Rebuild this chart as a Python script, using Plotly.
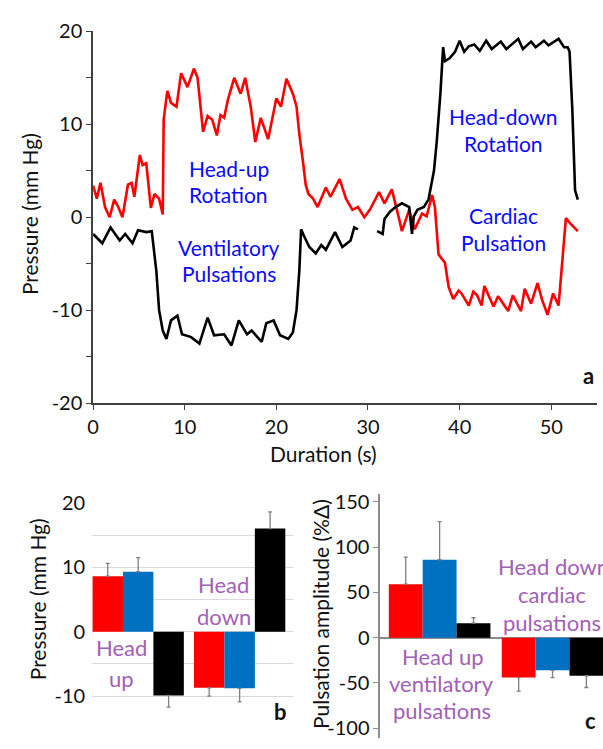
import plotly.graph_objects as go

# ---------------- data ----------------
red_t = [0, 0.4, 0.8, 1.3, 1.8, 2.3, 2.7, 3.2, 3.8, 4.2, 4.5, 5.1, 5.4, 5.8, 6.3, 6.7, 7.2, 7.6,
         7.7, 8.1, 8.5, 9.1, 9.6, 10.3, 11.0, 11.4, 12.0, 12.5, 13.0, 13.5, 13.9, 14.3, 14.7,
         15.4, 16.1, 16.6, 17.2, 17.7, 18.3, 19.1, 20.0, 20.5, 21.1, 21.8, 22.2, 22.5, 22.9,
         23.2, 23.5, 24.0, 24.5, 25.4, 25.9, 26.9, 27.6, 28.3, 28.9, 29.6, 30.2, 31.2, 31.8,
         32.6, 33.4, 33.7, 34.5, 35.1, 35.9, 36.4, 37.0, 37.3, 37.7, 38.4, 38.8, 39.3, 39.9,
         40.2, 41.0, 41.5, 41.9, 42.4, 42.7, 43.7, 44.2, 45.3, 45.8, 46.7, 47.1, 47.8, 48.5,
         49.0, 49.6, 50.2, 50.8, 51.6, 52.1, 52.9]
red_v = [3.4, 2.0, 3.7, 1.1, 0.0, 1.9, 1.2, 0.0, 3.5, 3.7, 2.2, 6.7, 5.6, 5.8, 1.0, 2.5, 2.0, 0.3,
         10.5, 13.6, 12.3, 11.9, 15.5, 14.0, 16.0, 15.0, 9.2, 10.9, 10.5, 8.8, 11.0, 10.7, 12.6,
         15.0, 13.3, 15.0, 11.9, 8.1, 10.7, 8.4, 12.8, 11.9, 14.9, 13.3, 11.9, 9.0, 6.0,
         3.5, 2.5, 2.0, 1.1, 3.2, 2.2, 4.1, 2.0, 0.8, 1.1, 0.0, 0.8, 2.7, 1.5,
         3.0, -0.2, -1.5, 0.8, -1.3, 0.4, 0.1, 2.4, 1.1, -4.0, -4.9, -7.5, -8.8, -7.9,
         -8.2, -9.5, -8.0, -8.4, -9.5, -7.4, -9.6, -8.5, -10.1, -8.4, -10.1, -7.7, -9.3, -7.1,
         -8.9, -10.5, -8.2, -9.5, -0.1, -0.7, -1.5]

black_t = [0, 1.0, 1.9, 2.9, 3.5, 4.3, 4.9, 5.8, 6.4, 6.9, 7.2, 7.6, 8.0, 8.5, 9.2, 9.7, 10.7,
           11.6, 12.5, 13.2, 14.3, 15.1, 15.9, 16.8, 17.3, 18.4, 18.9, 19.7, 20.4, 21.3, 21.8,
           22.2, 22.5, 22.7, 23.0, 23.6, 24.3, 24.9, 25.4, 26.4, 27.2, 28.1, 28.5, 28.9, None,
           31.0, 31.6, 31.8, 32.4, 33.0, 33.7, 34.5, 34.8, 35.0, 35.4, 36.1, 36.6, 37.2, 37.5,
           37.9, 38.2, 38.4, 38.9, 39.5, 40.0, 40.5, 41.0, 41.6, 42.2, 42.9, 43.5, 44.5, 45.1,
           46.4, 46.9, 47.8, 48.3, 49.2, 49.7, 50.8, 51.4, 51.8, 52.0, 52.3, 52.6, 52.9]
black_v = [-1.8, -2.8, -1.1, -2.5, -1.8, -2.8, -1.4, -1.6, -1.5, -5.8, -10.0, -12.2, -13.1,
           -11.1, -10.6, -12.6, -12.9, -13.6, -10.8, -12.7, -12.6, -13.8, -11.1, -12.6, -12.2,
           -13.4, -11.4, -11.1, -12.7, -13.1, -12.4, -10.0, -5.8, -1.3, -2.0, -3.2, -3.9, -3.0,
           -3.5, -1.6, -3.2, -2.5, -1.1, -1.3, None, -1.5, -1.8, -0.2, 0.6, 1.1, 1.5, 1.1, -1.8,
           0.1, 0.8, 1.1, 1.9, 5.0, 8.1, 13.3, 18.3, 16.8, 17.1, 17.8, 19.0, 17.8, 18.4, 18.6,
           17.9, 19.0, 18.1, 18.9, 18.1, 19.2, 18.1, 18.9, 18.3, 19.0, 18.5, 19.2, 18.3, 18.3,
           17.8, 11.6, 2.9, 1.9]

groups = [0, 1]  # Head up, Head down

b_red = [8.6, -8.7]
b_red_err = [2.0, 1.3]
b_blue = [9.3, -8.8]
b_blue_err = [2.2, 2.1]
b_black = [-9.9, 16.0]
b_black_err = [1.8, 2.6]

c_red = [59, -44]
c_red_err = [30, 15]
c_blue = [86, -36]
c_blue_err = [42, 8]
c_black = [16, -42]
c_black_err = [6, 13]

top_yticks = [-20, -10, 0, 10, 20]
top_xticks = [0, 10, 20, 30, 40, 50]
b_yticks = [-10, 0, 10, 20]
c_yticks = [-100, -50, 0, 50, 100, 150]

# ---------------- styling ----------------
W, H = 603, 749
FONT = "Lato"
RED, BLUE, BLACK = "#ff0000", "#0070c0", "#000000"
PURPLE = "#a260b6"
TXTBLUE = "#0a0aff"
AXC = "#404040"


def px(x):
    return x / W


def py(y):
    return 1 - y / H


def labels(vals):
    return [str(v) for v in vals]


fig = go.Figure()

# top chart lines
fig.add_trace(go.Scatter(x=red_t, y=red_v, mode="lines", line=dict(color=RED, width=2.6),
                         xaxis="x", yaxis="y", showlegend=False))
fig.add_trace(go.Scatter(x=black_t, y=black_v, mode="lines", line=dict(color=BLACK, width=2.6),
                         xaxis="x", yaxis="y", showlegend=False, connectgaps=False))


def err(vals, errs):
    plus = [e if v > 0 else 0 for v, e in zip(vals, errs)]
    minus = [e if v < 0 else 0 for v, e in zip(vals, errs)]
    return dict(type="data", symmetric=False, array=plus, arrayminus=minus,
                color="#7f7f7f", thickness=1.3, width=2)


for vals, errs, col in [(b_red, b_red_err, RED), (b_blue, b_blue_err, BLUE),
                        (b_black, b_black_err, BLACK)]:
    fig.add_trace(go.Bar(x=groups, y=vals, marker=dict(color=col, line=dict(width=0)),
                         error_y=err(vals, errs), xaxis="x2", yaxis="y2", showlegend=False))

for vals, errs, col in [(c_red, c_red_err, RED), (c_blue, c_blue_err, BLUE),
                        (c_black, c_black_err, BLACK)]:
    fig.add_trace(go.Bar(x=groups, y=vals, marker=dict(color=col, line=dict(width=0)),
                         error_y=err(vals, errs), xaxis="x3", yaxis="y3", showlegend=False))

tickfont = dict(family=FONT, size=20, color="#111111")

fig.update_layout(
    width=W, height=H, margin=dict(l=0, r=0, t=0, b=0),
    paper_bgcolor="white", plot_bgcolor="white",
    font=dict(family=FONT, size=20, color="#111111"),
    barmode="group", bargap=0.1, bargroupgap=0,
    xaxis=dict(domain=[px(88), px(597)], range=[0, 55], tickvals=top_xticks,
               ticktext=labels(top_xticks),
               showgrid=False, zeroline=False, showline=True, linecolor=AXC, linewidth=1.6,
               ticks="outside", ticklen=5, tickcolor=AXC, tickwidth=1.3, tickfont=tickfont,
               anchor="y"),
    yaxis=dict(domain=[py(403), py(19)], range=[-20, 20], tickvals=top_yticks,
               ticktext=labels(top_yticks),
               showgrid=False, zeroline=False, showline=True, linecolor=AXC, linewidth=1.6,
               ticks="outside", ticklen=5, tickcolor=AXC, tickwidth=1.3, tickfont=tickfont,
               minor=dict(dtick=5, ticks="outside", ticklen=5, tickcolor=AXC, tickwidth=1.3),
               anchor="x"),
    xaxis2=dict(domain=[px(87), px(290)], range=[-0.4537, 1.527], showticklabels=False,
                showgrid=False, zeroline=False, showline=False, ticks="", anchor="y2"),
    yaxis2=dict(domain=[py(739), py(506)], range=[-15, 20], tickvals=b_yticks,
                ticktext=labels(b_yticks),
                showgrid=True, gridcolor="#d9d9d9", gridwidth=1, zeroline=False,
                showline=False, ticks="", tickfont=tickfont, ticklabelstandoff=6,
                minor=dict(dtick=5, tick0=0, showgrid=True, gridcolor="#d9d9d9", gridwidth=1),
                anchor="x2"),
    xaxis3=dict(domain=[px(378), 1.0], range=[-0.526, 1.447], showticklabels=False,
                showgrid=False, zeroline=False, showline=False, ticks="", anchor="y3"),
    yaxis3=dict(domain=[0, py(497)], range=[-110.7, 158.5], tickvals=c_yticks,
                ticktext=labels(c_yticks),
                showgrid=False, zeroline=True, zerolinecolor="#8c8c8c", zerolinewidth=1.5,
                showline=True, linecolor="#8c8c8c", linewidth=1.5, ticks="outside",
                ticklen=5, tickcolor="#8c8c8c", tickwidth=1.3, tickfont=tickfont,
                anchor="x3"),
)

annotations = []


def add_text(x, y, text, size=22, color="#111111", angle=0, bold=False):
    if bold:
        text = "<b>" + text + "</b>"
    annotations.append(dict(x=px(x), y=py(y), xref="paper", yref="paper", text=text,
                            showarrow=False, textangle=angle, xanchor="center",
                            yanchor="middle", font=dict(family=FONT, size=size, color=color)))


# axis titles
add_text(24, 208, "Pressure (mm Hg)", angle=-90, size=21)
add_text(321, 455, "Duration (s)", size=21)
add_text(32, 606, "Pressure (mm Hg)", angle=-90, size=21)
add_text(317, 621, "Pulsation amplitude (%Δ)", angle=-90, size=21)

# blue annotations on top chart
add_text(225, 161, "Head-up", color=TXTBLUE, size=21)
add_text(225, 188, "Rotation", color=TXTBLUE, size=21)
add_text(225, 242, "Ventilatory", color=TXTBLUE, size=21)
add_text(225, 269, "Pulsations", color=TXTBLUE, size=21)
add_text(503, 107, "Head-down", color=TXTBLUE, size=21)
add_text(503, 135, "Rotation", color=TXTBLUE, size=21)
add_text(502, 209, "Cardiac", color=TXTBLUE, size=21)
add_text(502, 237, "Pulsation", color=TXTBLUE, size=21)

# purple annotations on bar charts
add_text(117, 655, "Head", color=PURPLE)
add_text(117, 688, "up", color=PURPLE)
add_text(220, 590, "Head", color=PURPLE)
add_text(220, 623, "down", color=PURPLE)
add_text(441, 665, "Head up", color=PURPLE)
add_text(440, 693, "ventilatory", color=PURPLE)
add_text(440, 721, "pulsations", color=PURPLE)
add_text(553, 572, "Head down", color=PURPLE)
add_text(551, 601, "cardiac", color=PURPLE)
add_text(551, 630, "pulsations", color=PURPLE)

# panel letters
add_text(588, 374, "a", size=22, bold=True)
add_text(277, 722, "b", size=22, bold=True)
add_text(590, 731, "c", size=22, bold=True)

fig.update_layout(annotations=annotations)

fig.write_html("out.html",
               config={"displayModeBar": False},
               post_script="document.body.style.margin='0';document.body.style.overflow='hidden';")
